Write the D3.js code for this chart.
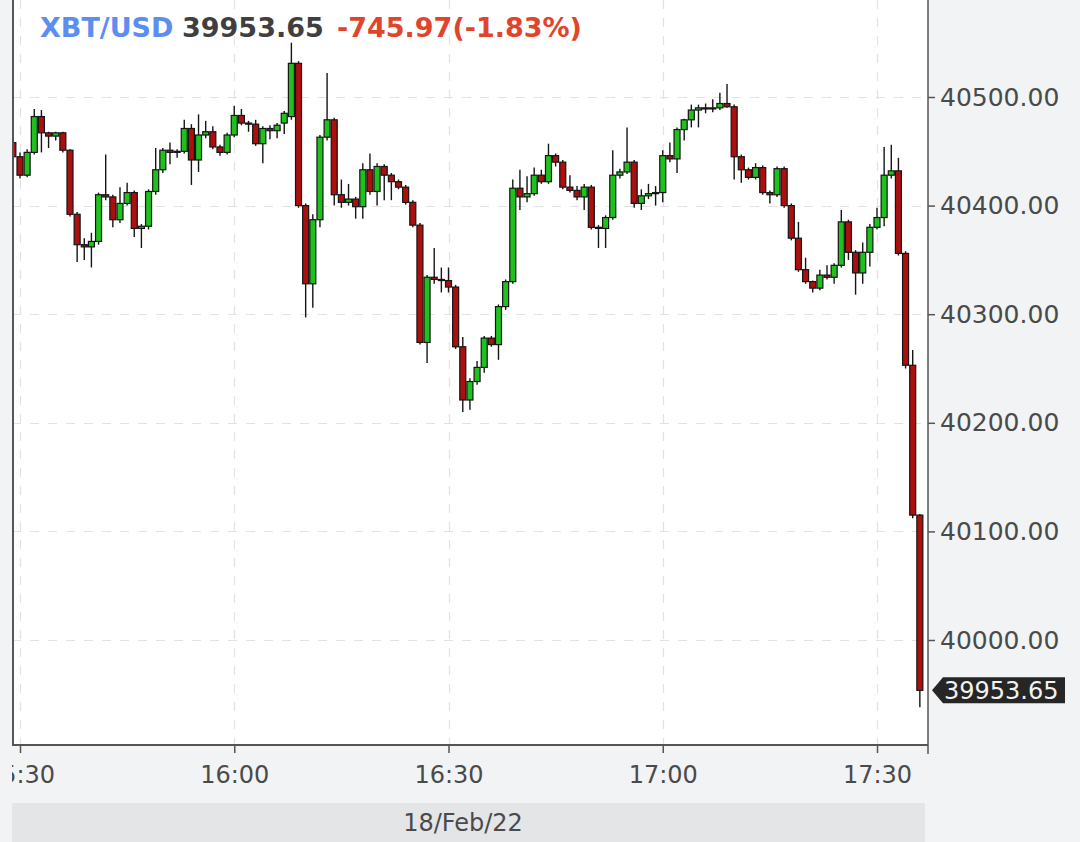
<!DOCTYPE html>
<html><head><meta charset="utf-8">
<script src="https://cdn.jsdelivr.net/npm/d3@7"></script>
<style>
html,body{margin:0;padding:0;background:#f2f3f5;}
svg{display:block;}
</style></head><body>
<svg id="c" width="1080" height="842"></svg>
<script>
// ---------- data ----------
const symbol = "XBT/USD";
const lastPriceText = "39953.65";
const changeText = "-745.97(-1.83%)";
const dateLabel = "18/Feb/22";
const day = "2022-02-18";
const firstCandle = "15:29";   // one-minute candles
const open = [
40458,40445,40428,40449,40482,40467,40464,40467,40451,40392,
40364,40362,40367,40410,40408,40387,40402,40412,40379,40381,
40413,40433,40451,40449,40450,40471,40442,40465,40468,40454,
40449,40465,40483,40476,40475,40457,40471,40469,40476,40482,
40531,40400,40328,40387,40463,40479,40410,40403,40406,40399,
40433,40413,40436,40428,40422,40417,40403,40382,40274,40334,
40332,40331,40325,40270,40221,40238,40251,40278,40272,40307,
40330,40416,40408,40411,40428,40422,40446,40440,40417,40414,
40408,40417,40380,40379,40389,40428,40431,40440,40402,40409,
40411,40412,40446,40443,40470,40479,40488,40490,40489,40490,
40494,40491,40445,40433,40426,40435,40412,40410,40434,40400,
40370,40341,40330,40324,40336,40334,40345,40385,40357,40338,
40357,40380,40389,40428,40432,40356,40253,40115];
const high = [
40462,40449,40452,40489,40488,40468,40468,40468,40452,40394,
40370,40375,40412,40447,40410,40417,40421,40414,40383,40415,
40453,40453,40458,40452,40479,40475,40484,40478,40473,40456,
40467,40492,40489,40478,40479,40473,40474,40476,40487,40550,
40533,40402,40392,40465,40522,40481,40424,40420,40408,40439,
40448,40439,40438,40430,40424,40419,40405,40384,40336,40361,
40343,40343,40327,40279,40241,40257,40280,40280,40309,40332,
40424,40433,40427,40435,40433,40457,40448,40442,40428,40418,
40420,40419,40382,40391,40451,40434,40472,40442,40415,40420,
40418,40451,40458,40472,40480,40493,40493,40494,40498,40504,
40512,40493,40447,40435,40439,40437,40414,40436,40436,40402,
40385,40352,40331,40341,40345,40347,40396,40387,40359,40366,
40383,40398,40454,40456,40444,40358,40267,40116];
const low = [
40440,40425,40426,40447,40449,40453,40460,40449,40390,40348,
40350,40343,40364,40405,40380,40384,40400,40371,40361,40378,
40410,40430,40438,40444,40448,40419,40431,40462,40452,40446,
40447,40463,40474,40468,40455,40439,40461,40462,40466,40479,
40398,40297,40306,40380,40460,40400,40398,40400,40388,40388,
40410,40400,40405,40405,40415,40401,40380,40272,40255,40328,
40320,40320,40268,40210,40212,40235,40246,40270,40258,40304,
40328,40396,40403,40409,40420,40420,40436,40415,40412,40405,
40396,40378,40361,40361,40387,40425,40429,40398,40396,40406,
40400,40403,40440,40430,40460,40472,40472,40485,40486,40488,
40490,40424,40421,40424,40424,40410,40402,40408,40398,40368,
40339,40328,40320,40322,40332,40328,40343,40350,40318,40328,
40344,40378,40381,40425,40354,40250,40112,39938];
const close = [
40445,40428,40449,40482,40467,40464,40467,40451,40392,40364,
40362,40367,40410,40408,40387,40402,40412,40379,40381,40413,
40433,40451,40449,40450,40471,40442,40465,40468,40454,40449,
40465,40483,40476,40475,40457,40471,40469,40474,40485,40531,
40400,40328,40387,40463,40479,40410,40403,40406,40399,40433,
40413,40436,40428,40422,40417,40403,40382,40274,40334,40332,
40331,40325,40270,40221,40238,40251,40278,40272,40307,40330,
40416,40408,40411,40428,40422,40446,40440,40417,40414,40408,
40417,40380,40379,40389,40428,40431,40440,40402,40409,40411,
40412,40446,40443,40470,40479,40488,40490,40489,40490,40494,
40491,40445,40433,40426,40435,40412,40410,40434,40400,40370,
40341,40330,40324,40336,40334,40345,40385,40357,40338,40357,
40380,40389,40428,40432,40356,40253,40115,39953.65];
const yTicks = [40000, 40100, 40200, 40300, 40400, 40500];
const xTickLabels = ["15:30", "16:00", "16:30", "17:00", "17:30"];

// ---------- layout ----------
const W = 1080, H = 842;
const L = 12, R = 928, T = 0, B = 745;
const UP = "#1fc11f", DOWN = "#ab0f0e";

const parse = d3.timeParse("%Y-%m-%d %H:%M");
const t0 = parse(day + " " + firstCandle);
const candles = open.map((o, i) => ({
  t: d3.timeMinute.offset(t0, i), o, h: high[i], l: low[i], c: close[i]
}));
const xTicks = xTickLabels.map(s => parse(day + " " + s));

const xRef = d3.scaleTime().domain([xTicks[0], xTicks[xTicks.length - 1]]).range([20, 877]);
const x = d3.scaleTime().domain([xRef.invert(L), xRef.invert(R)]).range([L, R]);
const yRef = d3.scaleLinear().domain([40000, 40500]).range([640, 97]);
const y = d3.scaleLinear().domain([yRef.invert(B), yRef.invert(T)]).range([B, T]);

const svg = d3.select("#c");
svg.append("rect").attr("width", W).attr("height", H).attr("fill", "#f2f3f5");
const defs = svg.append("defs");
defs.append("clipPath").attr("id", "plot").append("rect")
  .attr("x", L).attr("y", T).attr("width", R - L).attr("height", B - T);
defs.append("clipPath").attr("id", "xlab").append("rect")
  .attr("x", L).attr("y", B).attr("width", W - L).attr("height", 60);

// plot background
svg.append("rect").attr("x", L).attr("y", T).attr("width", R - L).attr("height", B - T).attr("fill", "#fff");

// grid
const grid = svg.append("g").attr("clip-path", "url(#plot)")
  .attr("stroke", "#e2e2e2").attr("stroke-width", 1.2).attr("stroke-dasharray", "9,9");
grid.selectAll("line.h").data(yTicks).join("line").attr("class", "h")
  .attr("x1", L).attr("x2", R).attr("y1", d => Math.round(y(d)) + 0.5).attr("y2", d => Math.round(y(d)) + 0.5);
grid.selectAll("line.v").data(xTicks).join("line").attr("class", "v")
  .attr("y1", T).attr("y2", B).attr("x1", d => Math.round(x(d)) + 0.5).attr("x2", d => Math.round(x(d)) + 0.5);

// candles
const bw = 6.0;
const cg = svg.append("g").attr("clip-path", "url(#plot)");
cg.selectAll("line.w").data(candles).join("line").attr("class", "w")
  .attr("x1", d => x(d.t)).attr("x2", d => x(d.t))
  .attr("y1", d => y(d.h)).attr("y2", d => y(d.l))
  .attr("stroke", "#151515").attr("stroke-width", 1.4);
cg.selectAll("rect.b").data(candles).join("rect").attr("class", "b")
  .attr("x", d => x(d.t) - bw / 2).attr("width", bw)
  .attr("y", d => y(Math.max(d.o, d.c)))
  .attr("height", d => Math.max(1, Math.abs(y(d.o) - y(d.c))))
  .attr("fill", d => d.c >= d.o ? UP : DOWN)
  .attr("stroke", "#151515").attr("stroke-width", 1.2);

// axes
const fontF = "'DejaVu Sans', sans-serif";
const yAxis = svg.append("g").attr("transform", `translate(${R},0)`)
  .call(d3.axisRight(y).tickValues(yTicks).tickFormat(d3.format(".2f")).tickSize(7).tickPadding(5));
yAxis.select(".domain").remove();
yAxis.selectAll(".tick line").attr("stroke", "#555").attr("stroke-width", 1.5);
yAxis.selectAll(".tick text").attr("fill", "#4a4a4a").style("font-family", fontF).style("font-size", "25px");

const xWrap = svg.append("g").attr("clip-path", "url(#xlab)");
const xAxis = xWrap.append("g").attr("transform", `translate(0,${B})`)
  .call(d3.axisBottom(x).tickValues(xTicks).tickFormat(d3.timeFormat("%H:%M")).tickSize(8).tickPadding(13));
xAxis.select(".domain").remove();
xAxis.selectAll(".tick line").attr("stroke", "#555").attr("stroke-width", 1.5);
xAxis.selectAll(".tick text").attr("fill", "#4a4a4a").style("font-family", fontF).style("font-size", "24px");

// frame lines
svg.append("line").attr("x1", L + 1).attr("x2", L + 1).attr("y1", 0).attr("y2", B + 1)
  .attr("stroke", "#555").attr("stroke-width", 2);
svg.append("line").attr("x1", R).attr("x2", R).attr("y1", 0).attr("y2", B + 9)
  .attr("stroke", "#555").attr("stroke-width", 1.5);
svg.append("line").attr("x1", L).attr("x2", R).attr("y1", B).attr("y2", B)
  .attr("stroke", "#555").attr("stroke-width", 2);

// date band
svg.append("rect").attr("x", L).attr("y", 803).attr("width", 913).attr("height", 39).attr("fill", "#e4e5e7");
svg.append("text").attr("x", 463).attr("y", 831).attr("text-anchor", "middle")
  .attr("fill", "#4a4a4a").style("font-family", fontF).style("font-size", "24px").text(dateLabel);

// last price tag
const lastY = y(close[close.length - 1]);
const tag = svg.append("g");
tag.append("path")
  .attr("d", `M${R + 4},${lastY} L${R + 15},${lastY - 13} L${R + 137},${lastY - 13} L${R + 137},${lastY + 13} L${R + 15},${lastY + 13} Z`)
  .attr("fill", "#262626");
tag.append("text").attr("x", R + 16).attr("y", lastY + 9)
  .attr("fill", "#f2f2f2").style("font-family", fontF).style("font-size", "24px").text(lastPriceText);

// title
const title = svg.append("g").style("font-family", fontF).style("font-size", "27px").style("font-weight", "bold");
title.append("text").attr("x", 40).attr("y", 37).attr("fill", "#5b8ef0").text(symbol);
title.append("text").attr("x", 182).attr("y", 37).attr("fill", "#3f3f3f").text(lastPriceText);
title.append("text").attr("x", 337).attr("y", 37).attr("fill", "#e0452c").text(changeText);
</script>
</body></html>
